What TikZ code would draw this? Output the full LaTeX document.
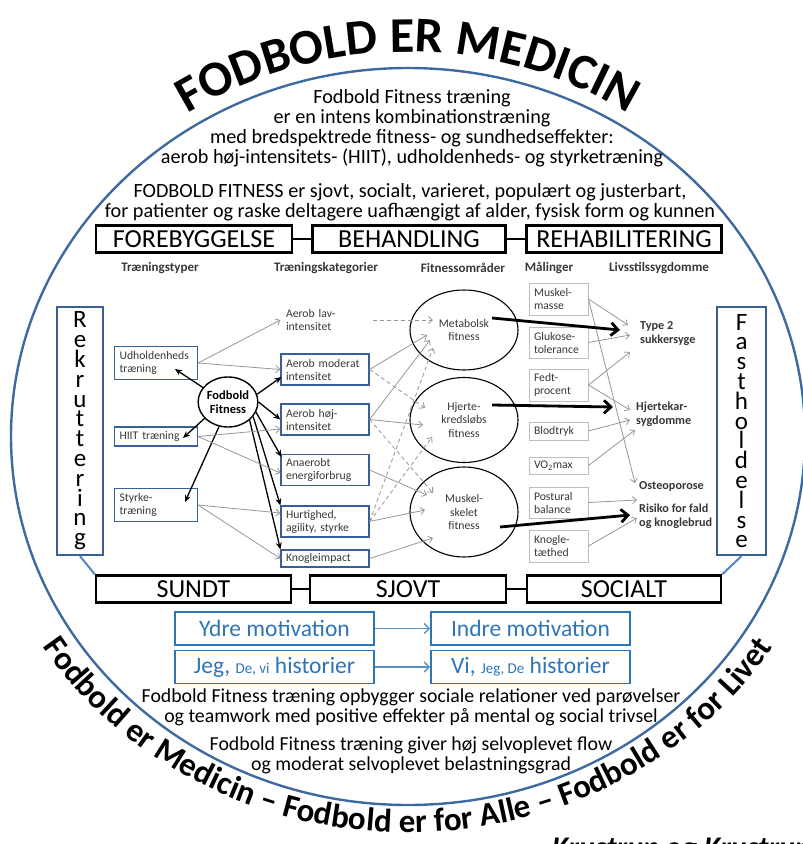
\documentclass[tikz,border=0pt]{standalone}
\usepackage{fontspec}
\setmainfont{Carlito}
\usepackage{tikz}
\usetikzlibrary{positioning,calc,arrows.meta,shapes.geometric,decorations.text}

\definecolor{ringblue}{RGB}{62,106,160}
\definecolor{frameblue}{RGB}{56,96,150}
\definecolor{sideblue}{RGB}{80,135,195}
\definecolor{motblue}{RGB}{46,117,182}
\definecolor{linkgray}{RGB}{150,150,150}
\definecolor{boxgray}{RGB}{190,190,190}
\definecolor{inkgray}{RGB}{55,55,55}

\newcommand{\fsz}[2]{\fontsize{#1}{#2}\selectfont}
\newcommand{\ringtitle}{\bfseries\fontsize{50}{50}\selectfont}
\newcommand{\ringmotto}{\bfseries\fontsize{33}{33}\selectfont}

\begin{document}
\begin{tikzpicture}[x=1pt,y=1pt,
    ringline/.style={draw=ringblue, line width=2.4pt},
    para/.style={align=center, inner sep=0pt, anchor=north},
    topbox/.style={draw, line width=2.4pt, minimum height=27pt, inner sep=0pt, font=\fsz{26}{26}},
    boxjoin/.style={line width=2.4pt},
    colhead/.style={inner sep=0pt, font=\bfseries\fsz{13}{14}, text=inkgray},
    wordbox/.style={draw=frameblue, line width=2.2pt, minimum height=248pt, inner sep=0pt, align=center, font=\fsz{25}{19.8}},
    sidelink/.style={draw=sideblue, line width=2pt},
    catbox/.style={draw=frameblue, line width=1.2pt, text width=78pt, inner xsep=5pt, inner ysep=0pt, align=left, font=\fsz{11.7}{13}, text=inkgray},
    hubellipse/.style={ellipse, draw, line width=1.4pt, minimum width=58pt, minimum height=50pt, inner sep=0pt, align=center, font=\bfseries\fsz{12.5}{14}},
    fitellipse/.style={ellipse, draw, line width=1.1pt, minimum width=108pt, inner sep=0pt, align=center, font=\fsz{11.7}{13.5}, text=inkgray},
    measbox/.style={draw=boxgray, line width=0.9pt, text width=49pt, inner xsep=5pt, inner ysep=0pt, align=left, font=\fsz{11.7}{13}, text=inkgray},
    sicklabel/.style={anchor=west, align=left, inner sep=0pt, font=\bfseries\fsz{12.2}{14}, text=inkgray},
    graylink/.style={draw=linkgray, line width=0.8pt, -{Straight Barb[length=4pt,width=7pt]}},
    dashlink/.style={graylink, dash pattern=on 4pt off 3pt},
    hublink/.style={draw=black, line width=1.3pt, -{Stealth[length=7pt,width=6pt]}},
    biglink/.style={draw=black, line width=2.8pt, -{Straight Barb[length=7pt,width=13pt]}},
    motbox/.style={draw=motblue, line width=1.6pt, minimum width=199pt, minimum height=33pt, inner sep=0pt, text=motblue, font=\fsz{23.5}{23.5}},
    motlink/.style={draw=motblue!80, line width=1.5pt, -{Straight Barb[length=5pt,width=10pt]}}
  ]
  \useasboundingbox (0,0) rectangle (803,-844);
  \clip (0,0) rectangle (803,-844);

  % ring with the two titles
  \draw[ringline] (408,-436.5) ellipse [x radius=397, y radius=368.5];
  \path[decorate, decoration={text along path, text align=center,
      text={|\ringtitle|FODBOLD ER MEDICIN}}]
    (408,-480) ++(160:428) arc[start angle=160, end angle=20, radius=428];
  \path[decorate, decoration={text along path, text align=center,
      text={|\ringmotto|Fodbold er Medicin – Fodbold er for Alle – Fodbold er for Livet}}]
    (408,-436.5) ++(185:431 and 396) arc[start angle=185, end angle=355, x radius=431, y radius=396];

  \node[para, font=\fsz{20.2}{20}] (intro) at (412,-89) {Fodbold Fitness træning\\er en intens kombinationstræning\\med bredspektrede fitness- og sundhedseffekter:\\aerob høj-intensitets- (HIIT), udholdenheds- og styrketræning};
  \node[para, font=\fsz{20.2}{20}] (claim) at (410,-183) {FODBOLD FITNESS er sjovt, socialt, varieret, populært og justerbart,\\for patienter og raske deltagere uafhængigt af alder, fysisk form og kunnen};

  % top row
  \node[topbox, minimum width=196pt] (forebyg) at (194,-239) {FOREBYGGELSE};
  \node[topbox, minimum width=193pt] (behand) at (409,-239) {BEHANDLING};
  \node[topbox, minimum width=195pt] (rehab) at (624,-239) {REHABILITERING};
  \draw[boxjoin] (forebyg.east) -- (behand.west);
  \draw[boxjoin] (behand.east) -- (rehab.west);

  \node[colhead] (htyper) at (160,-268) {Træningstyper};
  \node[colhead] (hkateg) at (326,-268) {Træningskategorier};
  \node[colhead] (homr) at (463,-268) {Fitnessområder};
  \node[colhead] (hmaal) at (549,-268) {Målinger};
  \node[colhead] (hsygd) at (659,-268) {Livsstilssygdomme};

  % side words
  \node[wordbox, minimum width=46pt] (rekrut) at (80,-431) {R\\e\\k\\r\\u\\t\\t\\e\\r\\i\\n\\g};
  \node[wordbox, minimum width=49pt] (fasthold) at (741.5,-431) {F\\a\\s\\t\\h\\o\\l\\d\\e\\l\\s\\e};

  % training types
  \node[catbox, text width=73pt, minimum height=33pt] (udhold) at (156,-363) {Udholdenheds\\træning};
  \node[catbox, text width=73pt, minimum height=19pt] (hiit) at (156,-436.5) {HIIT træning};
  \node[catbox, text width=73pt, minimum height=33pt] (styrke) at (156,-505) {Styrke-\\træning};
  \node[hubellipse] (fodbold) at (228,-402) {Fodbold\\Fitness};

  % training categories
  \node[catbox, draw=none, minimum height=31pt] (aerlav) at (325,-320) {Aerob lav-\\intensitet};
  \node[catbox, minimum height=31pt] (aermod) at (325,-369.5) {Aerob moderat\\intensitet};
  \node[catbox, minimum height=31pt] (aerhoj) at (325,-419.5) {Aerob høj-\\intensitet};
  \node[catbox, minimum height=31pt] (anaer) at (325,-470) {Anaerobt\\energiforbrug};
  \node[catbox, minimum height=31pt] (hurtig) at (325,-521.5) {Hurtighed,\\agility, styrke};
  \node[catbox, minimum height=17pt] (knogimp) at (325,-558.5) {Knogleimpact};

  % fitness areas
  \node[fitellipse, minimum height=80pt] (metab) at (464,-330) {Metabolsk\\fitness};
  \node[fitellipse, minimum height=85pt] (hjerte) at (464,-420) {Hjerte-\\kredsløbs\\fitness};
  \node[fitellipse, minimum height=90pt] (muskel) at (464,-512) {Muskel-\\skelet\\fitness};

  % measurements
  \node[measbox, minimum height=32pt] (musmas) at (558.5,-299) {Muskel-\\masse};
  \node[measbox, minimum height=31pt] (gluk) at (558.5,-342.5) {Glukose-\\tolerance};
  \node[measbox, minimum height=32pt] (fedt) at (558.5,-385) {Fedt-\\procent};
  \node[measbox, minimum height=18pt] (blod) at (558.5,-431) {Blodtryk};
  \node[measbox, minimum height=17pt] (vo2) at (558.5,-465.5) {VO\textsubscript{2}max};
  \node[measbox, minimum height=31pt] (postur) at (558.5,-502.5) {Postural\\balance};
  \node[measbox, minimum height=32pt] (knogt) at (558.5,-546) {Knogle-\\tæthed};

  % lifestyle diseases
  \node[sicklabel] (type2) at (640,-334) {Type 2\\sukkersyge};
  \node[sicklabel] (hjkar) at (636,-414) {Hjertekar-\\sygdomme};
  \node[sicklabel] (osteo) at (639,-486) {Osteoporose};
  \node[sicklabel] (risiko) at (639,-516) {Risiko for fald\\og knoglebrud};

  % hub arrows
  \draw[hublink] (fodbold.150) -- ([shift={(19,-6)}]udhold.center);
  \draw[hublink] (fodbold.215) -- ([shift={(27,-1.5)}]hiit.center);
  \draw[hublink] (fodbold.250) -- ([shift={(29,3)}]styrke.center);
  \draw[hublink] (fodbold.15) -- ([shift={(1,-7.5)}]aermod.west);
  \draw[hublink] (fodbold.0) -- (aerhoj.west);
  \draw[hublink] (fodbold.-20) -- ([shift={(1,-3)}]anaer.north west);
  \draw[hublink] (fodbold.-30) -- (hurtig.north west);
  \draw[hublink] (fodbold.-40) -- (knogimp.north west);

  % types to categories
  \draw[graylink] (udhold.east) -- (aerlav.west);
  \draw[graylink] (udhold.east) -- (aermod.west);
  \draw[graylink] (hiit.east) -- ([yshift=-9.5]aerhoj.west);
  \draw[graylink] (hiit.east) -- ([yshift=-3]anaer.west);
  \draw[graylink] (styrke.east) -- ([yshift=8.5]hurtig.west);
  \draw[graylink] (styrke.east) -- (knogimp.west);

  % categories to fitness areas
  \draw[dashlink] ([xshift=3]aerlav.east) -- ([shift={(-31,10)}]metab.center);
  \draw[graylink] (aermod.east) -- ([shift={(-37,-5)}]metab.center);
  \draw[dashlink] (aermod.east) -- ([shift={(-39,12)}]hjerte.center);
  \draw[graylink] (aerhoj.east) -- ([shift={(-34,-10)}]metab.center);
  \draw[graylink] (aerhoj.east) -- ([shift={(-41,-5)}]hjerte.center);
  \draw[dashlink] (aerhoj.east) -- ([shift={(-31,19)}]muskel.center);
  \draw[graylink] (anaer.east) -- ([shift={(-37,17)}]muskel.center);
  \draw[dashlink] (hurtig.east) -- ([shift={(-31,-18)}]metab.center);
  \draw[dashlink] (hurtig.east) -- ([shift={(-32,-17)}]hjerte.center);
  \draw[graylink] (hurtig.east) -- ([shift={(-39,2)}]muskel.center);
  \draw[graylink] (knogimp.east) -- ([shift={(-31,-26)}]muskel.center);

  % measurements to diseases
  \draw[graylink] (musmas.east) -- ([shift={(-12,9)}]type2.west);
  \draw[graylink] (musmas.east) -- ([shift={(-4,3)}]osteo.west);
  \draw[graylink] (gluk.east) -- ([shift={(-10,-1)}]type2.west);
  \draw[graylink] (fedt.east) -- ([shift={(-10,-18)}]type2.west);
  \draw[graylink] (fedt.east) -- ([shift={(-6,4)}]hjkar.west);
  \draw[graylink] (blod.east) -- ([shift={(-6,-6)}]hjkar.west);
  \draw[graylink] (vo2.east) -- ([shift={(-1,-16)}]hjkar.west);
  \draw[graylink] (postur.east) -- ([shift={(-2,16)}]risiko.west);
  \draw[graylink] (knogt.east) -- ([shift={(-2,-2)}]risiko.west);

  % fitness areas to diseases
  \draw[biglink] ([shift={(28,12)}]metab.center) -- ([shift={(-20,4)}]type2.west);
  \draw[biglink] ([shift={(28,15)}]hjerte.center) -- ([shift={(-23,7)}]hjkar.west);
  \draw[biglink] ([shift={(36,-15)}]muskel.center) -- ([shift={(-9,1)}]risiko.west);

  % bottom row
  \node[topbox, minimum width=195pt] (sundt) at (193.5,-589) {SUNDT};
  \node[topbox, minimum width=196pt] (sjovt) at (408,-589) {SJOVT};
  \node[topbox, minimum width=194pt] (socialt) at (624,-589) {SOCIALT};
  \draw[boxjoin] (sundt.east) -- (sjovt.west);
  \draw[boxjoin] (sjovt.east) -- (socialt.west);
  \draw[sidelink] (rekrut.south) -- (sundt.north west);
  \draw[sidelink] (fasthold.south) -- (socialt.north east);

  % motivation
  \node[motbox] (ydre) at (274.5,-628.5) {Ydre motivation};
  \node[motbox] (indre) at (530.5,-628.5) {Indre motivation};
  \node[motbox] (jegdevi) at (274.5,-667) {Jeg, {\fsz{15}{15}De, vi} historier};
  \node[motbox] (vijegde) at (530.5,-667) {Vi, {\fsz{15}{15}Jeg, De} historier};
  \draw[motlink] (ydre) -- (indre);
  \draw[motlink] (jegdevi) -- (vijegde);

  \node[para, font=\fsz{19.8}{20}] (social) at (411,-689) {Fodbold Fitness træning opbygger sociale relationer ved parøvelser\\og teamwork med positive effekter på mental og social trivsel};
  \node[para, font=\fsz{19.8}{20}] (flow) at (411,-737) {Fodbold Fitness træning giver høj selvoplevet flow\\og moderat selvoplevet belastningsgrad};

  \node[anchor=base west, inner sep=0pt, font=\bfseries\itshape\fsz{30}{30}] (credit) at (552,-857) {Krustrup og Krustrup};
\end{tikzpicture}
\end{document}
